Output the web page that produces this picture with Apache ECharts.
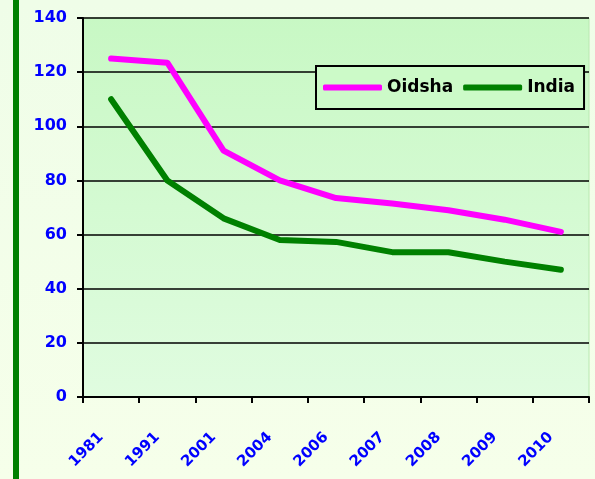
<!DOCTYPE html>
<html lang="en">
<head>
  <meta charset="UTF-8">
  <title>Oidsha vs India</title>
  <script src="https://cdn.jsdelivr.net/npm/echarts@6/dist/echarts.min.js"></script>
  <style>
    html, body { margin: 0; padding: 0; }
    #main { width: 595px; height: 479px; }
  </style>
</head>
<body>
<div id="main"></div>
<script>
  var years = ['1981', '1991', '2001', '2004', '2006', '2007', '2008', '2009', '2010'];
  var oidsha = [125, 123.5, 91, 80, 73.5, 71.5, 69, 65.5, 61];
  var india = [110, 80, 66, 58, 57.3, 53.5, 53.5, 50, 47];
  var yTicks = { min: 0, max: 140, interval: 20 };

  var chart = echarts.init(document.getElementById('main'));

  var option = {
    animation: false,
    backgroundColor: {
      type: 'linear', x: 0, y: 0, x2: 0, y2: 1,
      colorStops: [{ offset: 0, color: '#effde8' }, { offset: 1, color: '#f6ffea' }]
    },
    graphic: [
      { type: 'rect', left: 13, top: 0, shape: { width: 6, height: 479 }, style: { fill: '#008000' } }
    ],
    grid: {
      left: 83, right: 6, top: 18, bottom: 82,
      show: true,
      borderWidth: 1,
      borderColor: '#b8e8b0',
      backgroundColor: {
        type: 'linear', x: 0, y: 0, x2: 0, y2: 1,
        colorStops: [{ offset: 0, color: '#c8f8c4' }, { offset: 1, color: '#e0fce0' }]
      }
    },
    legend: {
      left: 316, top: 66,
      padding: [13, 9, 13, 7],
      itemGap: 10,
      itemWidth: 59, itemHeight: 6,
      icon: 'roundRect',
      borderColor: '#000', borderWidth: 2,
      backgroundColor: '#ccfac8',
      textStyle: { color: '#000', fontWeight: 'bold', fontSize: 17, fontFamily: 'DejaVu Sans' },
      data: ['Oidsha', 'India']
    },
    xAxis: {
      type: 'category',
      data: years,
      boundaryGap: true,
      axisLine: { lineStyle: { color: '#000', width: 2 } },
      axisTick: { show: true, length: 6, lineStyle: { color: '#000', width: 2 } },
      axisLabel: {
        rotate: 45, margin: 28, padding: [0, 14, 0, 0],
        color: '#0000ff', fontWeight: 'bold', fontSize: 15, fontFamily: 'DejaVu Sans'
      },
      splitLine: { show: false }
    },
    yAxis: {
      type: 'value',
      min: yTicks.min, max: yTicks.max, interval: yTicks.interval,
      axisLine: { show: true, lineStyle: { color: '#000', width: 2 } },
      axisTick: { show: true, length: 6, lineStyle: { color: '#000', width: 2 } },
      axisLabel: {
        margin: 16,
        color: '#0000ff', fontWeight: 'bold', fontSize: 16, fontFamily: 'DejaVu Sans'
      },
      splitLine: { lineStyle: { color: '#000', width: 1.5 } }
    },
    series: [
      {
        name: 'Oidsha', type: 'line', data: oidsha,
        showSymbol: false, symbol: 'none',
        color: '#ff00ff',
        lineStyle: { width: 6, color: '#ff00ff', cap: 'round', join: 'round' }
      },
      {
        name: 'India', type: 'line', data: india,
        showSymbol: false, symbol: 'none',
        color: '#008000',
        lineStyle: { width: 6, color: '#008000', cap: 'round', join: 'round' }
      }
    ]
  };

  chart.setOption(option);
</script>
</body>
</html>
